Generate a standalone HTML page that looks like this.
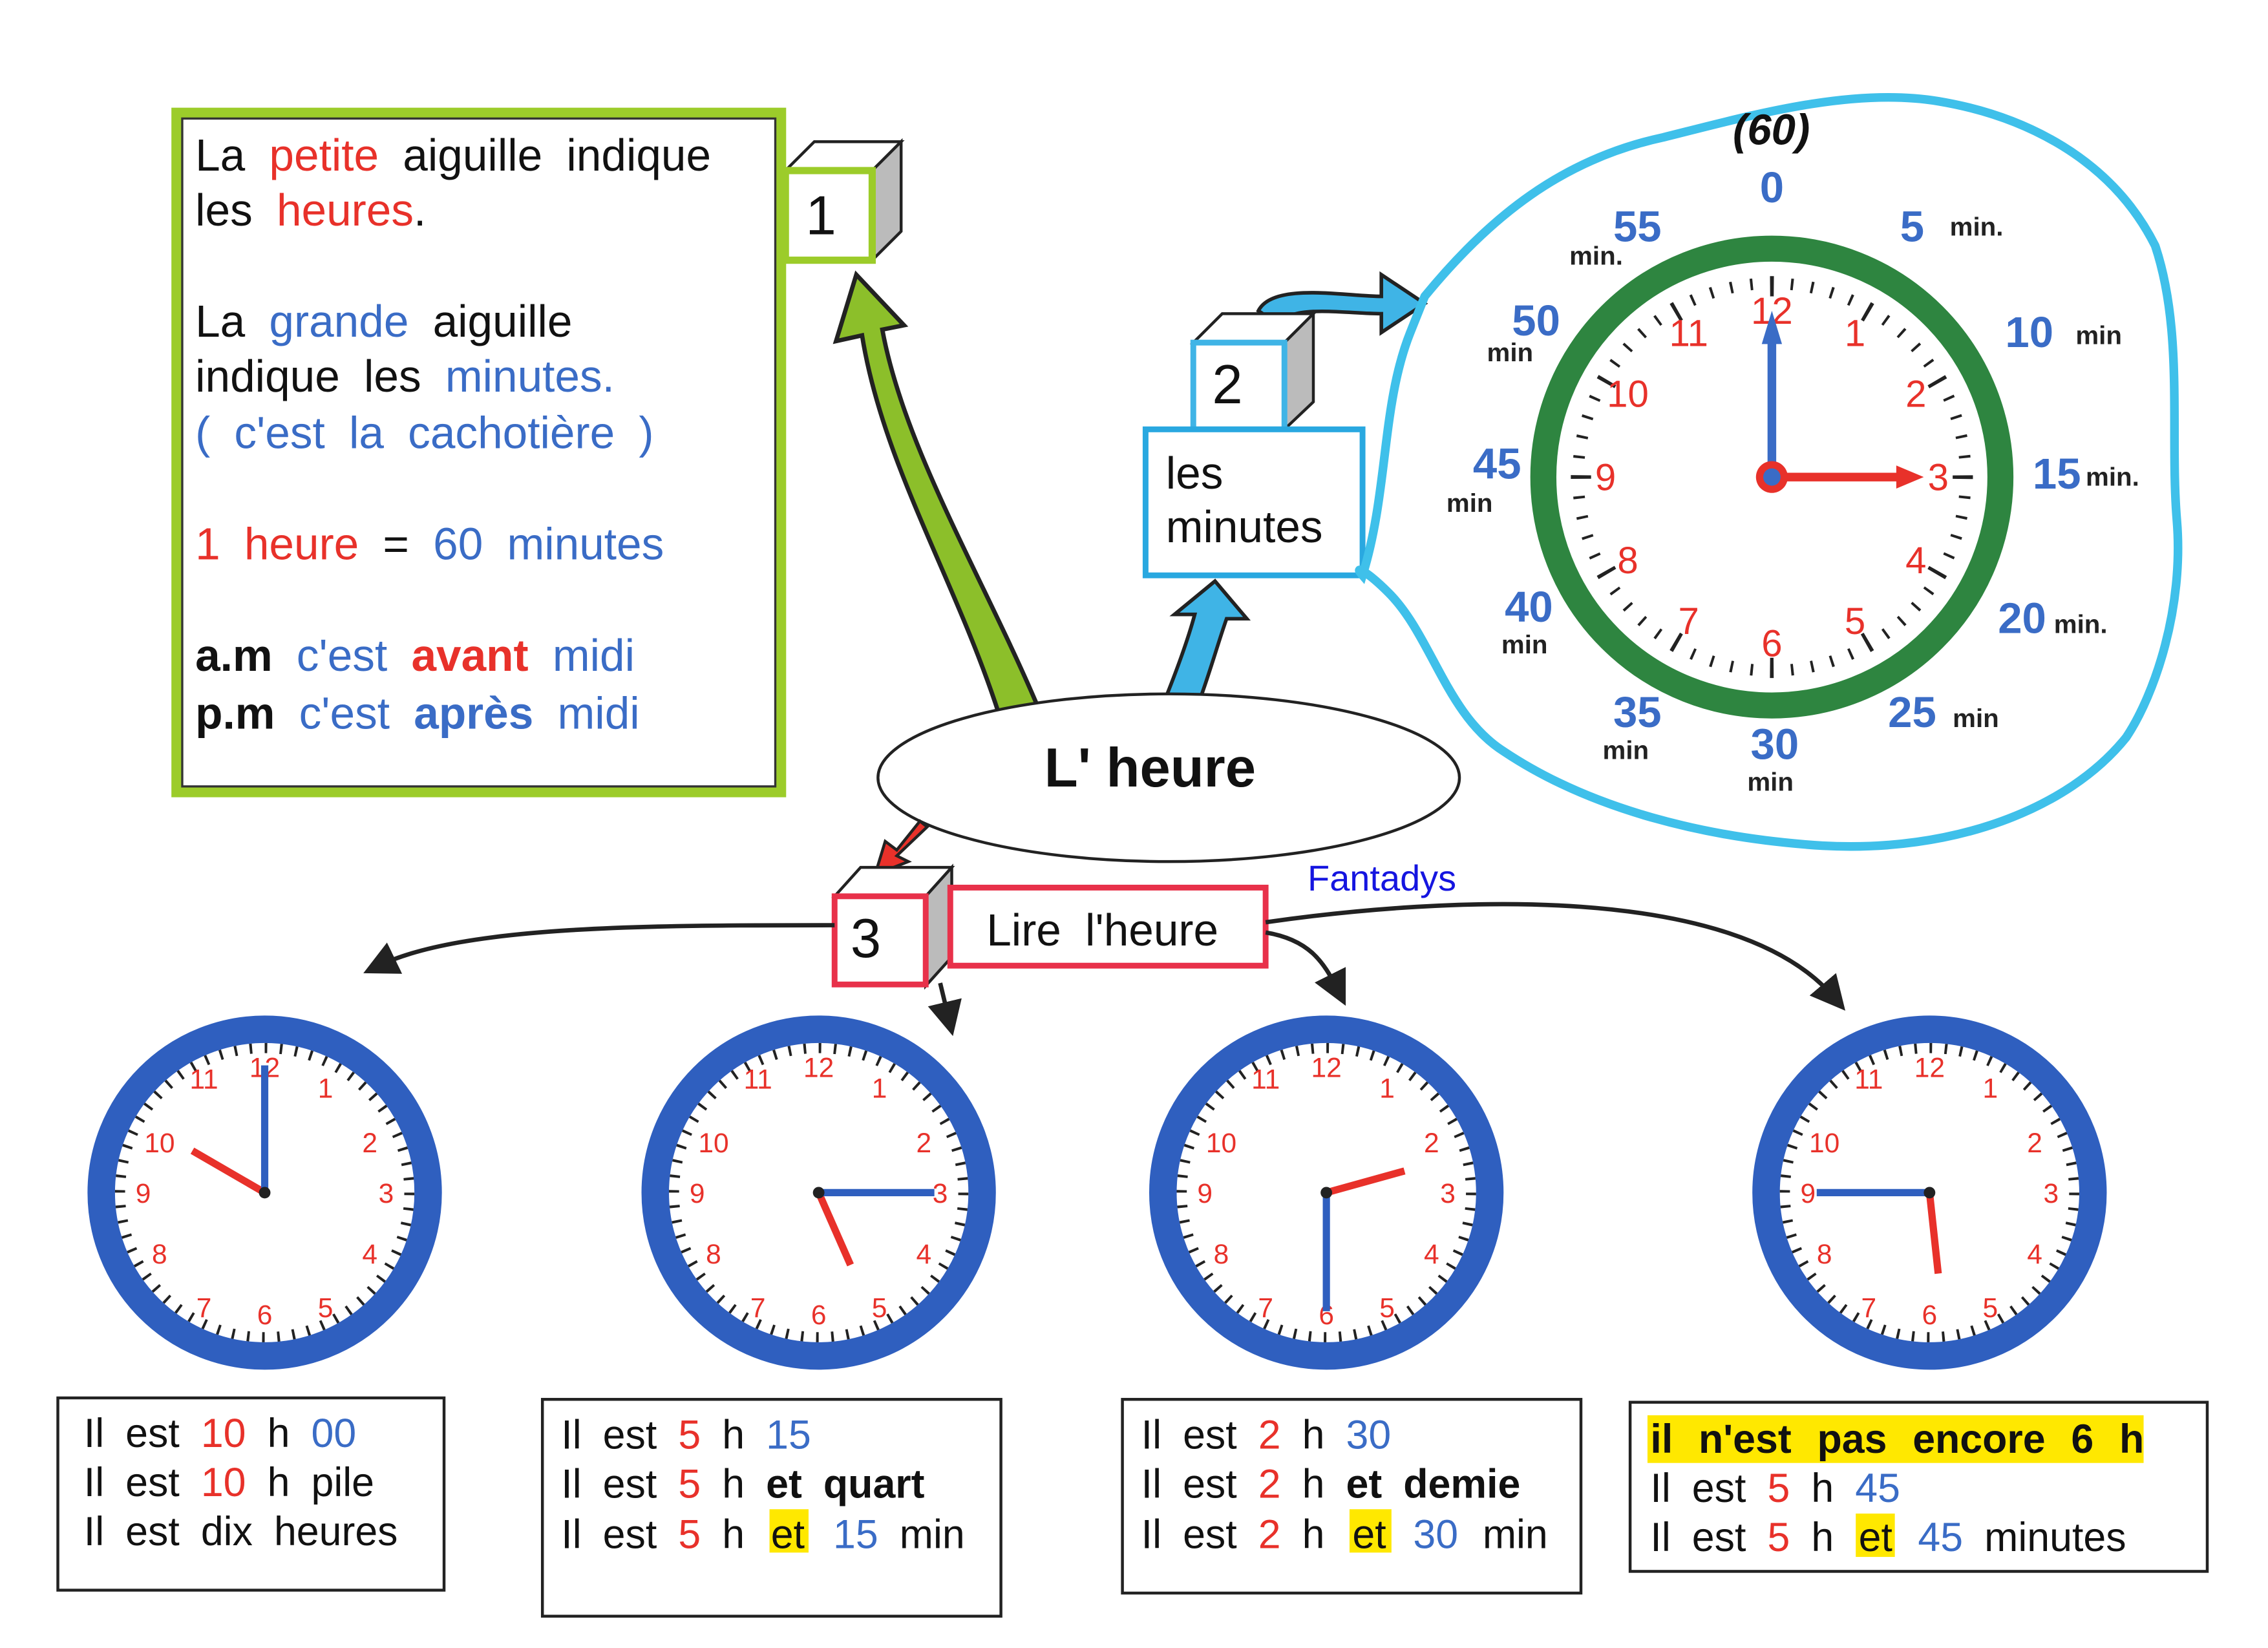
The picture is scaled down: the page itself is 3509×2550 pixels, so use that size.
<!DOCTYPE html>
<html><head><meta charset="utf-8">
<style>
html,body{margin:0;padding:0;background:#fff;}
svg{display:block;}
text{font-family:"Liberation Sans",sans-serif;}
</style></head>
<body>
<svg width="3509" height="2550" viewBox="0 0 1568 1140" preserveAspectRatio="none" xmlns="http://www.w3.org/2000/svg">
<defs>
<marker id="ab" markerWidth="8" markerHeight="8" refX="4" refY="4" orient="auto"><path d="M0,0 L8,4 L0,8 Z" fill="#222"/></marker>
</defs>
<rect width="1568" height="1140" fill="#fff"/>

<!-- green box -->
<rect x="122" y="78" width="418" height="470" fill="none" stroke="#9ccc2a" stroke-width="7"/>
<rect x="126" y="82" width="410" height="462" fill="none" stroke="#333" stroke-width="1.5"/>
<g font-size="31" fill="#111" word-spacing="8">
<text x="135" y="118">La <tspan fill="#e8312a">petite</tspan> aiguille indique</text>
<text x="135" y="156">les <tspan fill="#e8312a">heures</tspan>.</text>
<text x="135" y="233">La <tspan fill="#3a6cc6">grande</tspan> aiguille</text>
<text x="135" y="271">indique les <tspan fill="#3a6cc6">minutes.</tspan></text>
<text x="135" y="310" fill="#3a6cc6">( c'est la cachotière )</text>
<text x="135" y="387" fill="#e8312a">1 heure <tspan fill="#111">=</tspan> <tspan fill="#3a6cc6">60 minutes</tspan></text>
<text x="135" y="464"><tspan font-weight="bold">a.m</tspan> <tspan fill="#3a6cc6">c'est</tspan> <tspan fill="#e8312a" font-weight="bold">avant</tspan> <tspan fill="#3a6cc6">midi</tspan></text>
<text x="135" y="504"><tspan font-weight="bold">p.m</tspan> <tspan fill="#3a6cc6">c'est</tspan> <tspan fill="#3a6cc6" font-weight="bold">après</tspan> <tspan fill="#3a6cc6">midi</tspan></text>
</g>

<!-- cube 1 -->
<polygon points="543,118 563,98 623,98 603,118" fill="#fff" stroke="#222" stroke-width="2"/>
<polygon points="603,118 623,98 623,160 603,180" fill="#bbb" stroke="#222" stroke-width="2"/>
<rect x="543" y="118" width="60" height="62" fill="#fff" stroke="#9ccc2a" stroke-width="5"/>
<text x="557" y="162" font-size="38" fill="#111">1</text>

<!-- green arrow -->
<path d="M690,492 C660,400 610,320 596,232 L578,236 L592,190 L625,225 L610,228 C625,310 680,400 718,490 Z" fill="#8cbf2a" stroke="#222" stroke-width="3"/>

<!-- cube 2 / les minutes -->
<path d="M870,215 C880,195 930,205 955,205 L955,190 L985,210 L955,230 L955,217 C930,217 890,210 885,225 Z" fill="#3fb4e6" stroke="#222" stroke-width="2.5"/>
<polygon points="825,237 845,217 908,217 888,237" fill="#fff" stroke="#222" stroke-width="2"/>
<polygon points="888,237 908,217 908,278 888,297" fill="#bbb" stroke="#222" stroke-width="2"/>
<rect x="825" y="237" width="63" height="60" fill="#fff" stroke="#3fb4e6" stroke-width="4"/>
<text x="838" y="279" font-size="38" fill="#111">2</text>
<rect x="792" y="297" width="150" height="101" fill="#fff" stroke="#29a8e0" stroke-width="4"/>
<text x="806" y="338" font-size="31" fill="#111">les</text>
<text x="806" y="375" font-size="31" fill="#111">minutes</text>
<path d="M805,485 C815,460 822,440 826,425 L812,425 L840,402 L862,428 L848,428 C842,445 835,470 828,488 Z" fill="#3fb4e6" stroke="#222" stroke-width="2.5"/>

<!-- blue blob -->
<path d="M985,205 C1030,150 1080,110 1150,95 C1210,80 1280,60 1340,70 C1400,80 1460,110 1490,170 C1510,230 1500,300 1505,360 C1510,420 1490,480 1470,510 C1430,560 1350,590 1260,585 C1180,580 1100,560 1040,520 C1000,495 990,440 960,410 C945,395 935,390 942,398 C960,340 955,280 975,230 Z" fill="none" stroke="#3fc0ea" stroke-width="6"/>

<!-- big clock -->
<g transform="translate(1225,330)">
<circle r="158" fill="#fff" stroke="#2e8540" stroke-width="18"/>
<circle r="134" fill="none" stroke="#222" stroke-width="8" stroke-dasharray="1.8 12.23" transform="rotate(-90.4)"/>
<circle r="132" fill="none" stroke="#222" stroke-width="14" stroke-dasharray="2.5 66.6" transform="rotate(-90.5)"/>
<g font-size="26" fill="#e8312a" text-anchor="middle" font-family="Liberation Serif,serif">
<text x="57.5" y="-90.6">1</text><text x="99.6" y="-48.5">2</text><text x="115" y="9">3</text>
<text x="99.6" y="66.5">4</text><text x="57.5" y="108.6">5</text><text x="0" y="124">6</text>
<text x="-57.5" y="108.6">7</text><text x="-99.6" y="66.5">8</text><text x="-115" y="9">9</text>
<text x="-99.6" y="-48.5">10</text><text x="-57.5" y="-90.6">11</text><text x="0" y="-106">12</text>
</g>
<line x1="0" y1="0" x2="0" y2="-95" stroke="#3a6cc6" stroke-width="6"/>
<polygon points="-7,-92 0,-115 7,-92" fill="#3a6cc6"/>
<line x1="0" y1="0" x2="88" y2="0" stroke="#e8312a" stroke-width="6"/>
<polygon points="86,-8 105,0 86,8" fill="#e8312a"/>
<circle r="11" fill="#e8312a"/><circle r="6" fill="#3a6cc6"/>
</g>
<text x="1198" y="100" font-size="30" fill="#111" font-family="Liberation Serif,serif" font-style="italic" font-weight="bold">(60)</text>
<g font-size="30" font-weight="bold" fill="#3a6cc6" text-anchor="middle" font-family="Liberation Serif,serif">
<text x="1225" y="140">0</text><text x="1322" y="167">5</text><text x="1403" y="240">10</text>
<text x="1422" y="338">15</text><text x="1398" y="438">20</text><text x="1322" y="503">25</text>
<text x="1227" y="525">30</text><text x="1132" y="503">35</text><text x="1057" y="430">40</text>
<text x="1035" y="331">45</text><text x="1062" y="232">50</text><text x="1132" y="167">55</text>
</g>
<g font-size="18" font-weight="bold" fill="#222">
<text x="1348" y="163">min.</text><text x="1435" y="238">min</text><text x="1442" y="336">min.</text>
<text x="1420" y="438">min.</text><text x="1350" y="503">min</text><text x="1208" y="547">min</text>
<text x="1108" y="525">min</text><text x="1038" y="452">min</text><text x="1000" y="354">min</text>
<text x="1028" y="250">min</text><text x="1085" y="183">min.</text>
</g>

<!-- ellipse -->
<ellipse cx="808" cy="538" rx="201" ry="58" fill="#fff" stroke="#222" stroke-width="2"/>
<text x="722" y="544" font-size="38" font-weight="bold" fill="#111">L' heure</text>

<!-- red arrow -->
<path d="M636,568 L620,588 L612,582 L605,605 L628,596 L620,592 L641,572 Z" fill="#e8312a" stroke="#222" stroke-width="2"/>

<!-- cube 3 -->
<polygon points="577,620 595,600 658,600 640,620" fill="#fff" stroke="#222" stroke-width="2"/>
<polygon points="640,620 658,600 658,662 640,682" fill="#bbb" stroke="#222" stroke-width="2"/>
<rect x="577" y="620" width="63" height="61" fill="#fff" stroke="#e8314a" stroke-width="4"/>
<text x="588" y="662" font-size="38" fill="#111">3</text>
<rect x="657" y="614" width="218" height="54" fill="#fff" stroke="#e8314a" stroke-width="4"/>
<text x="682" y="654" font-size="31" fill="#111" word-spacing="8">Lire l'heure</text>
<text x="904" y="616" font-size="25" fill="#1515e0">Fantadys</text>

<!-- connectors -->
<g fill="none" stroke="#222" stroke-width="3" marker-end="url(#ab)">
<path d="M577,640 C450,640 320,640 262,668"/>
<path d="M650,680 L656,705"/>
<path d="M875,645 C905,650 915,665 925,685"/>
<path d="M875,638 C1000,620 1200,610 1268,690"/>
</g>

<!-- small clocks -->
<g id="c1" transform="translate(183,825)">
<circle r="113" fill="#fff" stroke="#2f5fbf" stroke-width="19"/>
<circle r="100" fill="none" stroke="#222" stroke-width="7" stroke-dasharray="1.8 8.67"/>
<g font-size="19" fill="#e8312a" text-anchor="middle" font-family="DejaVu Sans,sans-serif">
<text x="42" y="-65.7">1</text><text x="72.7" y="-28">2</text><text x="84" y="7">3</text><text x="72.7" y="49">4</text><text x="42" y="86">5</text><text x="0" y="91">6</text><text x="-42" y="86">7</text><text x="-72.7" y="49">8</text><text x="-84" y="7">9</text><text x="-72.7" y="-28">10</text><text x="-42" y="-72">11</text><text x="0" y="-80">12</text>
</g>
<line x1="0" y1="0" x2="-50" y2="-29" stroke="#e8312a" stroke-width="5"/>
<line x1="0" y1="0" x2="0" y2="-88" stroke="#2f5fbf" stroke-width="5"/>
<circle r="4" fill="#222"/>
</g>
<g transform="translate(566,825)">
<circle r="113" fill="#fff" stroke="#2f5fbf" stroke-width="19"/>
<circle r="100" fill="none" stroke="#222" stroke-width="7" stroke-dasharray="1.8 8.67"/>
<g font-size="19" fill="#e8312a" text-anchor="middle" font-family="DejaVu Sans,sans-serif">
<text x="42" y="-65.7">1</text><text x="72.7" y="-28">2</text><text x="84" y="7">3</text><text x="72.7" y="49">4</text><text x="42" y="86">5</text><text x="0" y="91">6</text><text x="-42" y="86">7</text><text x="-72.7" y="49">8</text><text x="-84" y="7">9</text><text x="-72.7" y="-28">10</text><text x="-42" y="-72">11</text><text x="0" y="-80">12</text>
</g>
<line x1="0" y1="0" x2="22" y2="50" stroke="#e8312a" stroke-width="5"/>
<line x1="0" y1="0" x2="80" y2="0" stroke="#2f5fbf" stroke-width="5"/>
<circle r="4" fill="#222"/>
</g>
<g transform="translate(917,825)">
<circle r="113" fill="#fff" stroke="#2f5fbf" stroke-width="19"/>
<circle r="100" fill="none" stroke="#222" stroke-width="7" stroke-dasharray="1.8 8.67"/>
<g font-size="19" fill="#e8312a" text-anchor="middle" font-family="DejaVu Sans,sans-serif">
<text x="42" y="-65.7">1</text><text x="72.7" y="-28">2</text><text x="84" y="7">3</text><text x="72.7" y="49">4</text><text x="42" y="86">5</text><text x="0" y="91">6</text><text x="-42" y="86">7</text><text x="-72.7" y="49">8</text><text x="-84" y="7">9</text><text x="-72.7" y="-28">10</text><text x="-42" y="-72">11</text><text x="0" y="-80">12</text>
</g>
<line x1="0" y1="0" x2="54" y2="-15" stroke="#e8312a" stroke-width="5"/>
<line x1="0" y1="0" x2="0" y2="82" stroke="#2f5fbf" stroke-width="5"/>
<circle r="4" fill="#222"/>
</g>
<g transform="translate(1334,825)">
<circle r="113" fill="#fff" stroke="#2f5fbf" stroke-width="19"/>
<circle r="100" fill="none" stroke="#222" stroke-width="7" stroke-dasharray="1.8 8.67"/>
<g font-size="19" fill="#e8312a" text-anchor="middle" font-family="DejaVu Sans,sans-serif">
<text x="42" y="-65.7">1</text><text x="72.7" y="-28">2</text><text x="84" y="7">3</text><text x="72.7" y="49">4</text><text x="42" y="86">5</text><text x="0" y="91">6</text><text x="-42" y="86">7</text><text x="-72.7" y="49">8</text><text x="-84" y="7">9</text><text x="-72.7" y="-28">10</text><text x="-42" y="-72">11</text><text x="0" y="-80">12</text>
</g>
<line x1="0" y1="0" x2="6" y2="56" stroke="#e8312a" stroke-width="5"/>
<line x1="0" y1="0" x2="-78" y2="0" stroke="#2f5fbf" stroke-width="5"/>
<circle r="4" fill="#222"/>
</g>

<!-- text boxes -->
<g fill="none" stroke="#222" stroke-width="2">
<rect x="40" y="967" width="267" height="133"/>
<rect x="375" y="968" width="317" height="150"/>
<rect x="776" y="968" width="317" height="134"/>
<rect x="1127" y="970" width="399" height="117"/>
</g>
<rect x="532" y="1044" width="27" height="30" fill="#ffe800"/>
<rect x="933" y="1044" width="29" height="30" fill="#ffe800"/>
<rect x="1283" y="1047" width="27" height="30" fill="#ffe800"/>
<rect x="1139" y="979" width="343" height="33" fill="#ffe800"/>
<g font-size="28" fill="#111" word-spacing="7">
<text x="58" y="1001">Il est <tspan fill="#e8312a">10</tspan> h <tspan fill="#3a6cc6">00</tspan></text>
<text x="58" y="1035">Il est <tspan fill="#e8312a">10</tspan> h pile</text>
<text x="58" y="1069">Il est dix heures</text>
<text x="388" y="1002">Il est <tspan fill="#e8312a">5</tspan> h <tspan fill="#3a6cc6">15</tspan></text>
<text x="388" y="1036">Il est <tspan fill="#e8312a">5</tspan> h <tspan font-weight="bold">et quart</tspan></text>
<text x="388" y="1071">Il est <tspan fill="#e8312a">5</tspan> h  <tspan x="533">et</tspan>  <tspan x="576" fill="#3a6cc6">15</tspan> min</text>
<text x="789" y="1002">Il est <tspan fill="#e8312a">2</tspan> h <tspan fill="#3a6cc6">30</tspan></text>
<text x="789" y="1036">Il est <tspan fill="#e8312a">2</tspan> h <tspan font-weight="bold">et demie</tspan></text>
<text x="789" y="1071">Il est <tspan fill="#e8312a">2</tspan> h <tspan x="935">et</tspan> <tspan x="977" fill="#3a6cc6">30</tspan> <tspan x="1025">min</tspan></text>
<text x="1141" y="1005" font-weight="bold" word-spacing="10">il n'est pas encore 6 h</text>
<text x="1141" y="1039">Il est <tspan fill="#e8312a">5</tspan> h <tspan fill="#3a6cc6">45</tspan></text>
<text x="1141" y="1073">Il est <tspan fill="#e8312a">5</tspan> h <tspan x="1285">et</tspan> <tspan x="1326" fill="#3a6cc6">45</tspan> minutes</text>
</g>
</svg>
</body></html>
